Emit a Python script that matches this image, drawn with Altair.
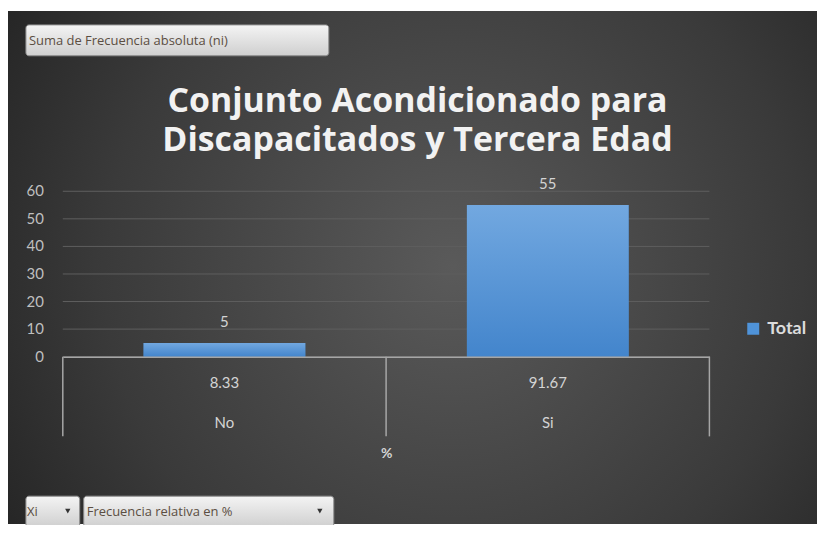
import altair as alt
import pandas as pd

# ---- data ----
categorias = ["No", "Si"]
frecuencia_absoluta = [5, 55]
frecuencia_relativa = ["8.33", "91.67"]
serie = ["Total", "Total"]
y_ticks = [0, 10, 20, 30, 40, 50, 60]

titulo = ["Conjunto Acondicionado para", "Discapacitados y Tercera Edad"]
boton_valor = "Suma de Frecuencia absoluta (ni)"
boton_xi = "Xi"
boton_fr = "Frecuencia relativa en %"
eje_x_titulo = "%"

df = pd.DataFrame({"Xi": categorias, "ni": frecuencia_absoluta,
                   "fr": frecuencia_relativa, "serie": serie})
grid_df = pd.DataFrame({"v": y_ticks})
last_df = pd.DataFrame({"Xi": categorias[-1:]})
one = pd.DataFrame({"k": [0]})

W, H = 649, 166
PL, PT = 55, 183
TOTAL_W, TOTAL_H = 812, 517
FONT = "Lato"
LABEL_COLOR = "#d4d4d4"
AXIS_GRAY = "#a6a6a6"
HALF_GAP = W / 2 * 0.25  # outer padding of the band scale, in px

xscale = alt.Scale(domain=categorias, paddingInner=0.5, paddingOuter=0.25)
yscale = alt.Scale(domain=[0, 60], nice=False)

x_axis = alt.Axis(title=eje_x_titulo, labels=False, ticks=False,
                  domainColor=AXIS_GRAY, domainWidth=1.5,
                  titleColor=LABEL_COLOR, titleFontSize=14,
                  titleFont=FONT, titleFontWeight="bold",
                  titlePadding=90, grid=False, zindex=2)

# background
bg = alt.Chart(one).mark_rect(
    fill=alt.Gradient(gradient="radial",
                      stops=[alt.GradientStop(offset=0, color="#5a5a5a"),
                             alt.GradientStop(offset=0.6, color="#3a3a3a"),
                             alt.GradientStop(offset=1, color="#1e1e1e")],
                      x1=0.55, y1=0.5, r1=0, x2=0.55, y2=0.5, r2=0.72)
).encode(x=alt.value(-PL), x2=alt.value(TOTAL_W - PL),
         y=alt.value(-PT + 2), y2=alt.value(TOTAL_H - PT))

grid = alt.Chart(grid_df).mark_rule(color="#5e5e5e", strokeWidth=1).encode(
    y=alt.Y("v:Q", scale=yscale, axis=None))

# y tick labels drawn through the y scale
y_labels = alt.Chart(grid_df).mark_text(align="right", baseline="middle",
                                        fontSize=15, font=FONT,
                                        color="#bfbfbf").encode(
    x=alt.value(-19), y=alt.Y("v:Q", scale=yscale, axis=None), text="v:Q")

bars = alt.Chart(df).mark_bar().encode(
    x=alt.X("Xi:N", scale=xscale, sort=categorias, axis=x_axis),
    y=alt.Y("ni:Q", scale=yscale, axis=None),
    color=alt.Color("serie:N", scale=alt.Scale(range=["#4f93d9"]),
                    legend=alt.Legend(title=None, orient="none", legendX=684,
                                      legendY=129, symbolType="square",
                                      symbolSize=144, labelFontSize=18,
                                      labelFont=FONT, labelFontWeight="bold",
                                      labelColor="#dcdcdc", padding=0,
                                      symbolStrokeWidth=0, labelOffset=5)))

bars_grad = alt.Chart(df).mark_bar(
    fill=alt.Gradient(gradient="linear",
                      stops=[alt.GradientStop(offset=0, color="#72a8e0"),
                             alt.GradientStop(offset=1, color="#4385cc")],
                      x1=0, y1=0, x2=0, y2=1)
).encode(x=alt.X("Xi:N", scale=xscale, sort=categorias),
         y=alt.Y("ni:Q", scale=yscale, axis=None))

# category dividers below the axis (left edge of each step, right edge of last)
div_left = alt.Chart(df).mark_rule(color=AXIS_GRAY, strokeWidth=1.5,
                                   xOffset=-HALF_GAP).encode(
    x=alt.X("Xi:N", scale=xscale, sort=categorias, bandPosition=0),
    y=alt.value(H), y2=alt.value(H + 80))
div_right = alt.Chart(last_df).mark_rule(color=AXIS_GRAY, strokeWidth=1.5,
                                         xOffset=HALF_GAP).encode(
    x=alt.X("Xi:N", scale=xscale, sort=categorias, bandPosition=1),
    y=alt.value(H), y2=alt.value(H + 80))

labels = alt.Chart(df).mark_text(dy=-21, baseline="middle", fontSize=15,
                                 font=FONT, color=LABEL_COLOR).encode(
    x=alt.X("Xi:N", scale=xscale, sort=categorias),
    y=alt.Y("ni:Q", scale=yscale, axis=None), text="ni:Q")

row_pct = alt.Chart(df).mark_text(baseline="middle", fontSize=15, font=FONT,
                                  color=LABEL_COLOR).encode(
    x=alt.X("Xi:N", scale=xscale, sort=categorias),
    y=alt.value(H + 26), text="fr:N")

row_cat = alt.Chart(df).mark_text(baseline="middle", fontSize=15, font=FONT,
                                  color=LABEL_COLOR).encode(
    x=alt.X("Xi:N", scale=xscale, sort=categorias),
    y=alt.value(H + 67), text="Xi:N")


def title_line(txt, y):
    return alt.Chart(one).mark_text(text=txt, align="center", baseline="middle",
                                    fontSize=34, fontWeight="bold",
                                    font="Open Sans",
                                    color="#f2f2f2").encode(
        x=alt.value(356), y=alt.value(y))


btn_fill = alt.Gradient(gradient="linear",
                        stops=[alt.GradientStop(offset=0, color="#f4f4f4"),
                               alt.GradientStop(offset=1, color="#cfcfcf")],
                        x1=0, y1=0, x2=0, y2=1)


def button(x0, x1, y0, y1):
    return alt.Chart(one).mark_rect(fill=btn_fill, stroke="#8c8c8c",
                                    strokeWidth=1, cornerRadius=3).encode(
        x=alt.value(x0), x2=alt.value(x1), y=alt.value(y0), y2=alt.value(y1))


def btn_text(txt, x, y):
    return alt.Chart(one).mark_text(text=txt, align="left", baseline="middle",
                                    fontSize=13, font="Open Sans",
                                    color="#5b4e42").encode(
        x=alt.value(x), y=alt.value(y))


def arrow(x, y):
    return alt.Chart(one).mark_point(shape="triangle-down", filled=True,
                                     size=28, color="#333333", opacity=1).encode(
        x=alt.value(x), y=alt.value(y))


decor = [
    title_line(titulo[0], -90), title_line(titulo[1], -50),
    button(-37, 267, -167, -136), btn_text(boton_valor, -34, -151),
    button(-37, 17, 306, 337), btn_text(boton_xi, -36, 322), arrow(5, 321),
    button(21, 272, 306, 337), btn_text(boton_fr, 24, 322), arrow(258, 321),
]

chart = alt.layer(bg, grid, bars, bars_grad, div_left, div_right, y_labels,
                  labels, row_pct, row_cat, *decor).properties(
    width=W, height=H,
    padding={"left": PL, "top": PT, "right": TOTAL_W - PL - W,
             "bottom": TOTAL_H - PT - H},
    autosize=alt.AutoSizeParams(type="none"),
).configure(background="white").configure_view(stroke=None)

chart.save("out.html", embed_options={"renderer": "svg", "actions": False})
